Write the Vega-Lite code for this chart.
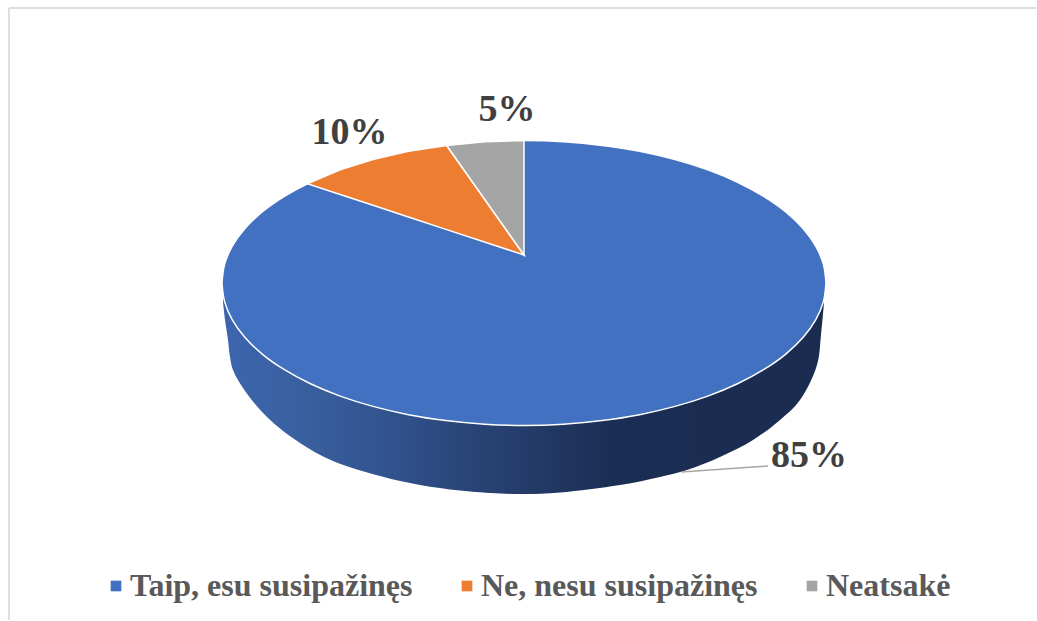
{
"$schema":"https://vega.github.io/schema/vega-lite/v6.json",
"width":1037,"height":621,"padding":0,
"autosize":{"type":"fit","contains":"padding"},
"background":"white",
"view":{"stroke":null},
"datasets":{
"frame":[{"x":9,"x2":9,"y":8,"y2":620},{"x":9,"x2":1036,"y":8,"y2":8}],
"wall":[
{"x":223,"top":283,"bottom":302},{"x":225,"top":283,"bottom":320},{"x":228,"top":283,"bottom":340},{"x":230,"top":283,"bottom":357},{"x":233,"top":283,"bottom":370},{"x":245,"top":283,"bottom":391},{"x":267,"top":283,"bottom":417},{"x":300,"top":283,"bottom":443},{"x":333,"top":283,"bottom":461},{"x":380,"top":283,"bottom":476},{"x":420,"top":283,"bottom":485},{"x":460,"top":283,"bottom":490.5},{"x":500,"top":283,"bottom":493.5},{"x":524,"top":283,"bottom":494},{"x":560,"top":283,"bottom":492.5},{"x":620,"top":283,"bottom":485},{"x":660,"top":283,"bottom":477},{"x":687,"top":283,"bottom":470},{"x":720,"top":283,"bottom":457},{"x":753,"top":283,"bottom":440},{"x":780,"top":283,"bottom":420},{"x":800,"top":283,"bottom":400},{"x":817,"top":283,"bottom":365},{"x":821,"top":283,"bottom":335},{"x":824,"top":283,"bottom":303}
],
"whole":[
{"category":"Taip, esu susipažinęs","x":222,"top":283,"bottom":283},
{"category":"Taip, esu susipažinęs","x":224.6,"top":264.4,"bottom":301.6},
{"category":"Taip, esu susipažinęs","x":232.3,"top":246.1,"bottom":319.9},
{"category":"Taip, esu susipažinęs","x":245,"top":228.5,"bottom":337.5},
{"category":"Taip, esu susipažinęs","x":262.5,"top":211.7,"bottom":354.3},
{"category":"Taip, esu susipažinęs","x":284.4,"top":196.3,"bottom":369.7},
{"category":"Taip, esu susipažinęs","x":310.5,"top":182.2,"bottom":383.8},
{"category":"Taip, esu susipažinęs","x":340.2,"top":169.9,"bottom":396.1},
{"category":"Taip, esu susipažinęs","x":373,"top":159.6,"bottom":406.4},
{"category":"Taip, esu susipažinęs","x":408.4,"top":151.3,"bottom":414.7},
{"category":"Taip, esu susipažinęs","x":445.8,"top":145.4,"bottom":420.6},
{"category":"Taip, esu susipažinęs","x":484.6,"top":141.7,"bottom":424.3},
{"category":"Taip, esu susipažinęs","x":524,"top":140.5,"bottom":425.5},
{"category":"Taip, esu susipažinęs","x":563.4,"top":141.7,"bottom":424.3},
{"category":"Taip, esu susipažinęs","x":602.2,"top":145.4,"bottom":420.6},
{"category":"Taip, esu susipažinęs","x":639.6,"top":151.3,"bottom":414.7},
{"category":"Taip, esu susipažinęs","x":675,"top":159.6,"bottom":406.4},
{"category":"Taip, esu susipažinęs","x":707.8,"top":169.9,"bottom":396.1},
{"category":"Taip, esu susipažinęs","x":737.5,"top":182.2,"bottom":383.8},
{"category":"Taip, esu susipažinęs","x":763.6,"top":196.3,"bottom":369.7},
{"category":"Taip, esu susipažinęs","x":785.5,"top":211.7,"bottom":354.3},
{"category":"Taip, esu susipažinęs","x":803,"top":228.5,"bottom":337.5},
{"category":"Taip, esu susipažinęs","x":815.7,"top":246.1,"bottom":319.9},
{"category":"Taip, esu susipažinęs","x":823.4,"top":264.4,"bottom":301.6},
{"category":"Taip, esu susipažinęs","x":826,"top":283,"bottom":283}
],
"wedges":[
{"category":"Ne, nesu susipažinęs","x":307.3,"top":183.7,"bottom":183.7},
{"category":"Ne, nesu susipažinęs","x":340.2,"top":169.9,"bottom":194.5},
{"category":"Ne, nesu susipažinęs","x":373,"top":159.6,"bottom":205.3},
{"category":"Ne, nesu susipažinęs","x":408.4,"top":151.3,"bottom":217},
{"category":"Ne, nesu susipažinęs","x":446.7,"top":145.5,"bottom":229.6},
{"category":"Ne, nesu susipažinęs","x":524,"top":255,"bottom":255},
{"category":"Neatsakė","x":446.7,"top":145.5,"bottom":145.5},
{"category":"Neatsakė","x":484.6,"top":141.7,"bottom":199.2},
{"category":"Neatsakė","x":524,"top":140.5,"bottom":255}
],
"leader":[{"x":681.5,"y":472},{"x":768,"y":466}],
"labels":[
{"category":"Taip, esu susipažinęs","share":0.85,"x":809,"y":467},
{"category":"Ne, nesu susipažinęs","share":0.10,"x":349.5,"y":143.5},
{"category":"Neatsakė","share":0.05,"x":507,"y":120.5}
]
},
"encoding":{
"x":{"field":"x","type":"quantitative","axis":null,"scale":{"domain":[0,1037],"nice":false,"zero":false}},
"y":{"type":"quantitative","axis":null,"scale":{"domain":[621,0],"nice":false,"zero":false}}
},
"layer":[
{"data":{"name":"frame"},"mark":{"type":"rule","color":"#dedede","strokeWidth":2},
 "encoding":{"y":{"field":"y","type":"quantitative"},"x2":{"field":"x2"},"y2":{"field":"y2"}}},
{"data":{"name":"wall"},
 "mark":{"type":"area","interpolate":"catmull-rom","color":{"gradient":"linear","x1":0,"x2":1,"y1":0,"y2":0,"stops":[{"offset":0,"color":"#3c65ae"},{"offset":0.13,"color":"#39609f"},{"offset":0.29,"color":"#31528c"},{"offset":0.4,"color":"#2a4578"},{"offset":0.52,"color":"#233a67"},{"offset":0.66,"color":"#1a2d52"},{"offset":1,"color":"#1a2c50"}]}},
 "encoding":{"y":{"field":"top","type":"quantitative","stack":null},"y2":{"field":"bottom"}}},
{"data":{"name":"whole"},
 "mark":{"type":"area","interpolate":"catmull-rom","stroke":"white","strokeWidth":1.5,"opacity":1},
 "encoding":{
  "y":{"field":"top","type":"quantitative","stack":null},
  "y2":{"field":"bottom"},
  "color":{"field":"category","type":"nominal","sort":null,
   "scale":{"domain":["Taip, esu susipažinęs","Ne, nesu susipažinęs","Neatsakė"],"range":["#4371c1","#ed7d31","#a5a5a5"]},
   "legend":{"title":null,"orient":"none","legendX":100,"legendY":570,"columns":3,"direction":"horizontal","symbolType":"square","symbolSize":114,"symbolStrokeWidth":0,"symbolStrokeColor":"transparent","columnPadding":38,"labelFont":"Liberation Serif","labelFontWeight":"bold","labelFontSize":32,"labelColor":"#595959","labelLimit":600,"labelOffset":-2}}
 }},
{"data":{"name":"wedges"},
 "mark":{"type":"area","interpolate":"linear","stroke":"white","strokeWidth":1.5,"opacity":1},
 "encoding":{
  "y":{"field":"top","type":"quantitative","stack":null},
  "y2":{"field":"bottom"},
  "color":{"field":"category","type":"nominal","sort":null}
 }},
{"data":{"name":"leader"},"mark":{"type":"line","color":"#a6a6a6","strokeWidth":1.5},
 "encoding":{"y":{"field":"y","type":"quantitative"}}},
{"data":{"name":"labels"},
 "mark":{"type":"text","font":"Liberation Serif","fontWeight":"bold","fontSize":38,"color":"#404040","align":"center","baseline":"alphabetic"},
 "encoding":{"y":{"field":"y","type":"quantitative"},"text":{"field":"share","type":"quantitative","format":".0%"}}}
]
}
